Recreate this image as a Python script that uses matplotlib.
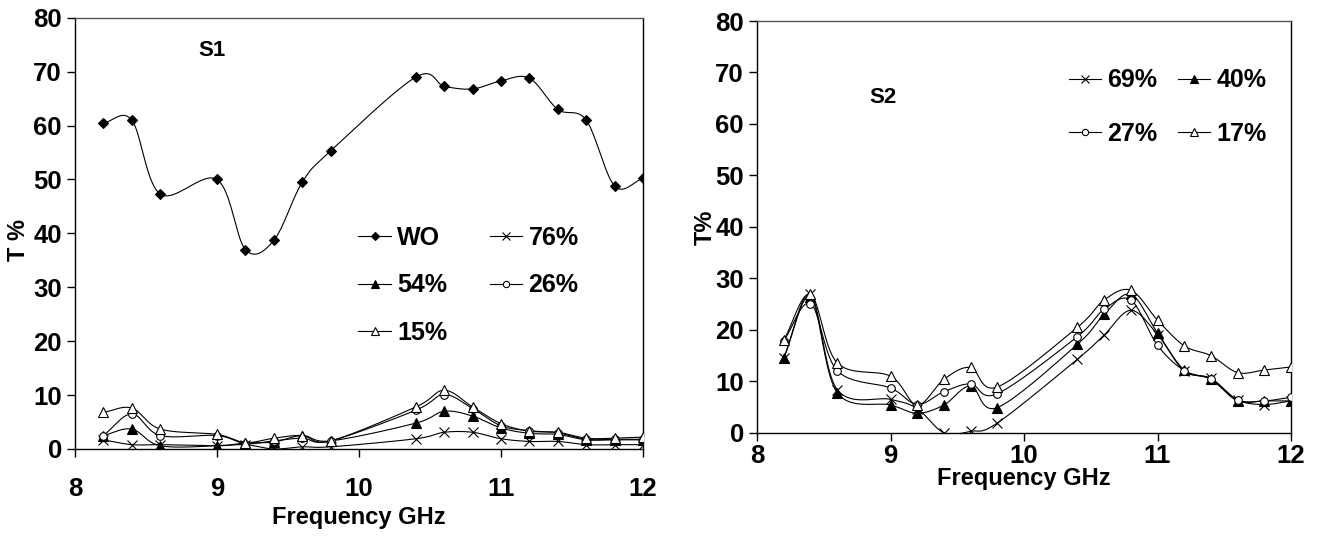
import numpy as np
import matplotlib
matplotlib.use("Agg")
import matplotlib.pyplot as plt
from matplotlib.lines import Line2D

plt.rcParams['font.family'] = ['Liberation Sans', 'DejaVu Sans']
plt.rcParams['font.weight'] = 'bold'
plt.rcParams['axes.labelweight'] = 'bold'

# frequency points (GHz), same for both panels
freq = [8.2, 8.4, 8.6, 9.0, 9.2, 9.4, 9.6, 9.8, 10.4, 10.6, 10.8, 11.0, 11.2, 11.4, 11.6, 11.8, 12.0]

# S1 panel
s1_wo = [60.5, 61.0, 47.3, 50.0, 37.0, 38.7, 49.5, 55.3, 69.0, 67.3, 66.8, 68.3, 68.8, 63.0, 61.0, 48.8, 50.2]
s1_76 = [1.7, 0.8, 0.8, 0.6, 0.8, 0.0, 0.4, 0.4, 1.9, 3.1, 3.1, 1.9, 1.4, 1.4, 0.8, 0.8, 0.8]
s1_54 = [2.5, 3.7, 0.6, 0.6, 1.1, 1.3, 2.5, 1.5, 4.8, 7.0, 6.1, 3.9, 2.9, 2.7, 1.7, 1.7, 1.7]
s1_26 = [2.5, 6.5, 2.5, 2.5, 1.0, 1.5, 2.0, 1.5, 7.2, 10.1, 7.5, 4.3, 3.4, 3.0, 1.8, 1.8, 1.8]
s1_15 = [6.8, 7.6, 3.7, 2.7, 1.2, 2.0, 2.5, 1.5, 7.8, 10.9, 7.8, 4.7, 3.3, 3.1, 2.0, 2.0, 2.2]

# S2 panel
s2_69 = [14.5, 26.9, 8.4, 6.5, 4.7, 0.0, 0.3, 1.9, 14.3, 19.0, 23.8, 19.1, 12.0, 10.6, 6.4, 5.5, 6.2]
s2_40 = [14.5, 26.4, 7.8, 5.4, 3.8, 5.4, 9.1, 4.9, 17.2, 23.0, 26.9, 19.4, 12.2, 10.4, 6.2, 6.2, 6.2]
s2_27 = [17.9, 25.1, 12.1, 8.7, 5.5, 8.0, 9.5, 7.6, 18.7, 24.0, 25.8, 17.0, 12.1, 10.4, 6.4, 6.2, 6.9]
s2_17 = [18.0, 26.9, 13.6, 11.0, 5.4, 10.4, 12.7, 8.9, 20.5, 25.8, 27.7, 21.9, 16.9, 15.0, 11.7, 12.2, 12.8]

# marker styles: (marker, facecolor, size)
styles = {
    'WO': ('D', 'black', 5),
    'x': ('x', 'black', 6.5),
    'tri_f': ('^', 'black', 6.5),
    'circ': ('o', 'white', 5.5),
    'tri_o': ('^', 'white', 6.5),
}


def smooth(x, y, n=20):
    # bezier smoothing like spreadsheet "smoothed line"
    x = np.asarray(x, float)
    y = np.asarray(y, float)
    px = np.concatenate([[2 * x[0] - x[1]], x, [2 * x[-1] - x[-2]]])
    py = np.concatenate([[2 * y[0] - y[1]], y, [2 * y[-1] - y[-2]]])
    xs, ys = [], []
    t = np.linspace(0, 1, n, endpoint=False)
    for i in range(1, len(px) - 2):
        p0x, p1x, p2x, p3x = px[i - 1:i + 3]
        p0y, p1y, p2y, p3y = py[i - 1:i + 3]
        c1x = p1x + (p2x - p0x) / 6
        c1y = p1y + (p2y - p0y) / 6
        c2x = p2x - (p3x - p1x) / 6
        c2y = p2y - (p3y - p1y) / 6
        bx = (1 - t) ** 3 * p1x + 3 * (1 - t) ** 2 * t * c1x + 3 * (1 - t) * t ** 2 * c2x + t ** 3 * p2x
        by = (1 - t) ** 3 * p1y + 3 * (1 - t) ** 2 * t * c1y + 3 * (1 - t) * t ** 2 * c2y + t ** 3 * p2y
        xs.extend(bx)
        ys.extend(by)
    xs.append(x[-1])
    ys.append(y[-1])
    return np.array(xs), np.array(ys)


def draw(ax, y, key, label):
    m, fc, ms = styles[key]
    sx, sy = smooth(freq, y)
    ax.plot(sx, sy, color='black', lw=0.8, zorder=2)
    ax.plot(freq, y, ls='none', marker=m, mfc=fc, mec='black', ms=ms, mew=0.8, zorder=3)
    return Line2D([], [], color='black', lw=0.8, marker=m, mfc=fc, mec='black', ms=ms - 1, mew=0.8, label=label)


def style_axes(ax):
    ax.set_xlim(8, 12)
    ax.set_ylim(0, 80)
    ax.set_xticks([8, 9, 10, 11, 12])
    ax.set_yticks(range(0, 81, 10))
    for s in ax.spines.values():
        s.set_linewidth(1.0)
    ax.spines['top'].set_color('#555555')
    ax.tick_params(direction='out', length=6, width=1, labelsize=18.5)


fig = plt.figure(figsize=(13.18, 5.39), dpi=100)

ax1 = fig.add_axes([0.0569, 0.167, 0.431, 0.800])
style_axes(ax1)
ax1.tick_params(axis='x', pad=14)
h_wo = draw(ax1, s1_wo, 'WO', 'WO')
h_76 = draw(ax1, s1_76, 'x', '76%')
h_54 = draw(ax1, s1_54, 'tri_f', '54%')
h_26 = draw(ax1, s1_26, 'circ', '26%')
h_15 = draw(ax1, s1_15, 'tri_o', '15%')
# column-major order so rows read WO 76% / 54% 26% / 15%
ax1.legend(handles=[h_wo, h_54, h_15, h_76, h_26], ncol=2, loc='upper left',
           bbox_to_anchor=(0.499, 0.518), frameon=False,
           fontsize=18, handlelength=1.3, handletextpad=0.25, labelspacing=0.95, columnspacing=1.7,
           borderpad=0, borderaxespad=0)
ax1.text(0.241, 0.925, 'S1', transform=ax1.transAxes, fontsize=16, ha='center', va='center')
ax1.set_xlabel('Frequency GHz', fontsize=17, labelpad=4)
ax1.set_ylabel('T %', fontsize=17)
ax1.yaxis.set_label_coords(-0.08, 0.485)

ax2 = fig.add_axes([0.5744, 0.197, 0.4051, 0.764])
style_axes(ax2)
ax2.tick_params(axis='x', pad=2)
h_69 = draw(ax2, s2_69, 'x', '69%')
h_40 = draw(ax2, s2_40, 'tri_f', '40%')
h_27 = draw(ax2, s2_27, 'circ', '27%')
h_17 = draw(ax2, s2_17, 'tri_o', '17%')
ax2.legend(handles=[h_69, h_27, h_40, h_17], ncol=2, loc='upper left',
           bbox_to_anchor=(0.584, 0.885), frameon=False,
           fontsize=18, handlelength=1.3, handletextpad=0.25, labelspacing=1.18, columnspacing=0.8,
           borderpad=0, borderaxespad=0)
ax2.text(0.235, 0.815, 'S2', transform=ax2.transAxes, fontsize=16, ha='center', va='center')
ax2.set_xlabel('Frequency GHz', fontsize=17, labelpad=-1)
ax2.set_ylabel('T%', fontsize=17)
ax2.yaxis.set_label_coords(-0.075, 0.5)

fig.savefig('out.png', dpi=100)
